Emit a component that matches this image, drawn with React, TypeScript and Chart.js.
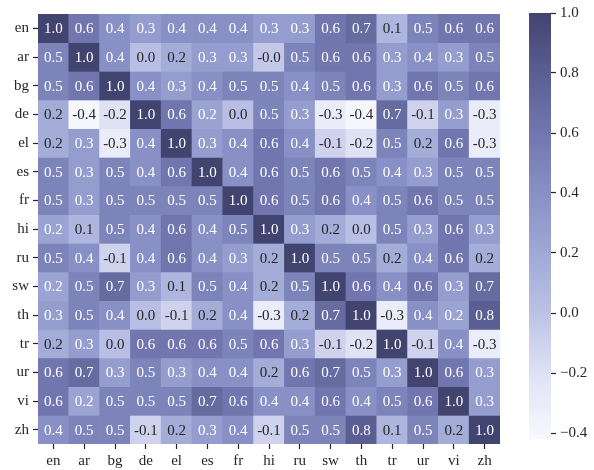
import React, { useEffect, useRef } from "react";
import { Chart, registerables } from "chart.js";

Chart.register(...registerables);

const labels = ["en", "ar", "bg", "de", "el", "es", "fr", "hi", "ru", "sw", "th", "tr", "ur", "vi", "zh"];

const rowEn = [1.0, 0.6, 0.4, 0.3, 0.4, 0.4, 0.4, 0.3, 0.3, 0.6, 0.7, 0.1, 0.5, 0.6, 0.6];
const rowAr = [0.5, 1.0, 0.4, 0.02, 0.17, 0.3, 0.3, -0.04, 0.5, 0.6, 0.6, 0.3, 0.4, 0.3, 0.5];
const rowBg = [0.5, 0.6, 1.0, 0.4, 0.3, 0.4, 0.5, 0.5, 0.4, 0.5, 0.6, 0.3, 0.6, 0.5, 0.6];
const rowDe = [0.17, -0.4, -0.2, 1.0, 0.6, 0.24, 0.02, 0.5, 0.3, -0.3, -0.4, 0.7, -0.1, 0.3, -0.3];
const rowEl = [0.17, 0.3, -0.3, 0.4, 1.0, 0.3, 0.4, 0.6, 0.4, -0.1, -0.2, 0.5, 0.17, 0.6, -0.3];
const rowEs = [0.5, 0.3, 0.5, 0.4, 0.6, 1.0, 0.4, 0.6, 0.5, 0.6, 0.5, 0.4, 0.3, 0.5, 0.5];
const rowFr = [0.5, 0.3, 0.5, 0.5, 0.5, 0.5, 1.0, 0.6, 0.5, 0.6, 0.4, 0.5, 0.6, 0.5, 0.5];
const rowHi = [0.24, 0.1, 0.5, 0.4, 0.6, 0.4, 0.5, 1.0, 0.3, 0.17, 0.02, 0.5, 0.3, 0.6, 0.3];
const rowRu = [0.5, 0.4, -0.1, 0.4, 0.6, 0.4, 0.3, 0.17, 1.0, 0.5, 0.5, 0.17, 0.4, 0.6, 0.17];
const rowSw = [0.24, 0.5, 0.7, 0.3, 0.1, 0.5, 0.4, 0.17, 0.5, 1.0, 0.6, 0.4, 0.6, 0.3, 0.7];
const rowTh = [0.3, 0.5, 0.4, 0.02, -0.1, 0.17, 0.4, -0.3, 0.17, 0.7, 1.0, -0.3, 0.4, 0.24, 0.8];
const rowTr = [0.17, 0.3, 0.02, 0.6, 0.6, 0.6, 0.5, 0.6, 0.3, -0.1, -0.2, 1.0, -0.1, 0.4, -0.3];
const rowUr = [0.6, 0.7, 0.3, 0.5, 0.3, 0.4, 0.4, 0.17, 0.6, 0.7, 0.5, 0.3, 1.0, 0.6, 0.3];
const rowVi = [0.6, 0.24, 0.5, 0.5, 0.5, 0.7, 0.6, 0.4, 0.4, 0.6, 0.4, 0.5, 0.6, 1.0, 0.3];
const rowZh = [0.4, 0.5, 0.5, -0.1, 0.17, 0.3, 0.4, -0.1, 0.5, 0.5, 0.8, 0.1, 0.5, 0.17, 1.0];

const matrix = [rowEn, rowAr, rowBg, rowDe, rowEl, rowEs, rowFr, rowHi, rowRu, rowSw, rowTh, rowTr, rowUr, rowVi, rowZh];

const vMin = -0.42;
const vMax = 1.0;
const colorbarTicks = [-0.4, -0.2, 0.0, 0.2, 0.4, 0.6, 0.8, 1.0];

const cmapStops: [number, string][] = [
  [-0.42, "#f8f8fe"],
  [-0.2, "#dfe2f4"],
  [0.0, "#bcc2e5"],
  [0.2, "#a0a8d6"],
  [0.4, "#8990c5"],
  [0.6, "#7177ae"],
  [0.8, "#5a5e92"],
  [1.0, "#424470"],
];

function hexToRgb(h: string): number[] {
  return [parseInt(h.slice(1, 3), 16), parseInt(h.slice(3, 5), 16), parseInt(h.slice(5, 7), 16)];
}

function cmapRgb(v: number): number[] {
  const x = Math.max(vMin, Math.min(vMax, v));
  for (let i = 0; i < cmapStops.length - 1; i++) {
    const [a, ca] = cmapStops[i];
    const [b, cb] = cmapStops[i + 1];
    if (x >= a && x <= b) {
      const t = (x - a) / (b - a);
      const A = hexToRgb(ca);
      const B = hexToRgb(cb);
      return A.map((q, k) => Math.round(q + (B[k] - q) * t));
    }
  }
  return hexToRgb(cmapStops[cmapStops.length - 1][1]);
}

function cmap(v: number): string {
  const [r, g, b] = cmapRgb(v);
  return `rgb(${r},${g},${b})`;
}

function textColor(v: number): string {
  const lin = cmapRgb(v).map((c) => {
    const s = c / 255;
    return s <= 0.03928 ? s / 12.92 : Math.pow((s + 0.055) / 1.055, 2.4);
  });
  const lum = 0.2126 * lin[0] + 0.7152 * lin[1] + 0.0722 * lin[2];
  return lum > 0.408 ? "#262626" : "#ffffff";
}

const FONT = "'Liberation Serif', 'DejaVu Serif', serif";
const INK = "#262626";

const cellTextPlugin = {
  id: "cellText",
  afterDatasetsDraw(chart: any) {
    const { ctx } = chart;
    const xs = chart.scales.x;
    const ys = chart.scales.y;
    ctx.save();
    ctx.font = `15px ${FONT}`;
    ctx.textAlign = "center";
    ctx.textBaseline = "middle";
    matrix.forEach((row, r) => {
      row.forEach((v, c) => {
        ctx.fillStyle = textColor(v);
        ctx.fillText(v.toFixed(1), xs.getPixelForValue(c), ys.getPixelForValue(r + 0.5) + 1);
      });
    });
    ctx.restore();
  },
};

export default function App() {
  const mainRef = useRef<HTMLCanvasElement>(null);
  const cbRef = useRef<HTMLCanvasElement>(null);

  useEffect(() => {
    if (!mainRef.current || !cbRef.current) return;
    Chart.defaults.font.family = FONT;
    Chart.defaults.font.size = 15;
    Chart.defaults.color = INK;

    const datasets = matrix.map((row, r) => ({
      label: labels[r],
      data: row.map(() => [r, r + 1]),
      backgroundColor: row.map((v) => cmap(v)),
      borderWidth: 0,
      barPercentage: 1,
      categoryPercentage: 1,
      grouped: false,
    }));

    const main = new Chart(mainRef.current, {
      type: "bar",
      data: { labels, datasets: datasets as any },
      options: {
        animation: false,
        responsive: false,
        maintainAspectRatio: false,
        layout: { padding: { top: 14, right: 94, left: 0, bottom: 0 } },
        plugins: { legend: { display: false }, tooltip: { enabled: false } },
        scales: {
          x: {
            type: "category",
            offset: true,
            grid: { display: true, drawOnChartArea: false, offset: false, tickLength: 5, color: INK, tickWidth: 1.2 },
            border: { display: false },
            ticks: { padding: 3, autoSkip: false, maxRotation: 0, color: INK },
            afterFit: (s: any) => {
              s.height = 26;
            },
          },
          y: {
            type: "linear",
            min: 0,
            max: 15,
            reverse: true,
            grid: { display: true, drawOnChartArea: false, tickLength: 5, color: INK, tickWidth: 1.2 },
            border: { display: false },
            afterBuildTicks: (axis: any) => {
              axis.ticks = labels.map((_, i) => ({ value: i + 0.5 }));
            },
            ticks: {
              padding: 4,
              autoSkip: false,
              color: INK,
              callback: (v: any) => labels[Math.floor(Number(v))],
            },
            afterFit: (s: any) => {
              s.width = 38;
            },
          },
        },
      },
      plugins: [cellTextPlugin],
    });

    const cb = new Chart(cbRef.current, {
      type: "bar",
      data: {
        labels: ["cb"],
        datasets: [
          {
            data: [[vMin, vMax]] as any,
            borderWidth: 0,
            barPercentage: 1,
            categoryPercentage: 1,
            backgroundColor: (c: any) => {
              const ch = c.chart;
              const area = ch.chartArea;
              const ys = ch.scales.y;
              if (!area || !ys) return cmap(0.3);
              const y0 = ys.getPixelForValue(vMin);
              const y1 = ys.getPixelForValue(vMax);
              const g = ch.ctx.createLinearGradient(0, y0, 0, y1);
              cmapStops.forEach(([v, col]) => {
                g.addColorStop((v - vMin) / (vMax - vMin), col);
              });
              return g;
            },
          },
        ],
      },
      options: {
        animation: false,
        responsive: false,
        maintainAspectRatio: false,
        layout: { padding: { top: 13, right: 0, left: 29, bottom: 31 } },
        plugins: { legend: { display: false }, tooltip: { enabled: false } },
        scales: {
          x: { display: false, offset: true },
          y: {
            type: "linear",
            position: "right",
            min: vMin,
            max: vMax,
            grid: { display: true, drawOnChartArea: false, tickLength: 5, color: INK, tickWidth: 1.2 },
            border: { display: false },
            afterBuildTicks: (axis: any) => {
              axis.ticks = colorbarTicks.map((v) => ({ value: v }));
            },
            ticks: {
              padding: 4,
              color: INK,
              callback: (v: any) => {
                const n = Number(v);
                const s = Math.abs(n).toFixed(1);
                return n < -1e-9 ? "\u2212" + s : s;
              },
            },
            afterFit: (s: any) => {
              s.width = 43;
            },
          },
        },
      },
    });

    return () => {
      main.destroy();
      cb.destroy();
    };
  }, []);

  return (
    <div style={{ position: "fixed", left: 0, top: 0, width: 594, height: 470, background: "#fff" }}>
      <canvas ref={mainRef} width={594} height={470} style={{ position: "absolute", left: 0, top: 0, width: 594, height: 470 }} />
      <canvas ref={cbRef} width={94} height={470} style={{ position: "absolute", left: 500, top: 0, width: 94, height: 470 }} />
    </div>
  );
}
